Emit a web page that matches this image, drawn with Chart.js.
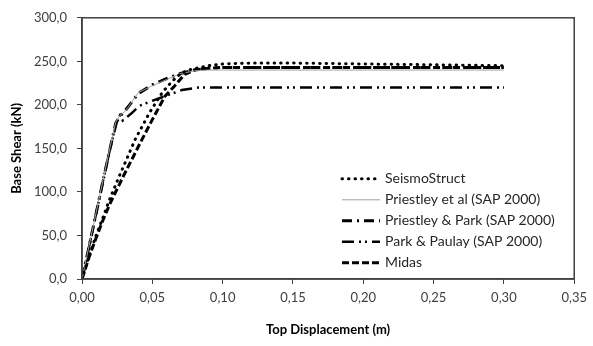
<!DOCTYPE html>
<html>
<head>
<meta charset="utf-8">
<script src="https://cdn.jsdelivr.net/npm/chart.js@4/dist/chart.umd.min.js"></script>
<style>
  html, body { margin: 0; padding: 0; background: #fff; }
  #wrap { width: 593px; height: 346px; }
</style>
</head>
<body>
<div id="wrap"><canvas id="grafico"></canvas></div>
<script>
// series names
const nomes = ['SeismoStruct', 'Priestley et al (SAP 2000)', 'Priestley & Park (SAP 2000)', 'Park & Paulay (SAP 2000)', 'Midas'];

// SeismoStruct
const seismoX = [0, 0.005, 0.010, 0.015, 0.020, 0.027, 0.038, 0.048, 0.057, 0.064, 0.071, 0.078, 0.090, 0.100, 0.120, 0.150, 0.200, 0.250, 0.300];
const seismoY = [0, 26, 50, 71, 93, 120, 161, 191, 214, 227, 237, 241, 245, 247, 248, 248, 247, 246, 245];

// Priestley et al
const priestleyX = [0, 0.005, 0.010, 0.015, 0.020, 0.024, 0.027, 0.031, 0.040, 0.050, 0.060, 0.070, 0.080, 0.090, 0.100, 0.150, 0.200, 0.250, 0.300];
const priestleyY = [0, 38, 76, 114, 152, 180, 188, 193, 214, 222, 229, 236, 239, 240, 240, 240, 240, 240, 240];

// Priestley & Park
const ppX = [0, 0.005, 0.010, 0.015, 0.020, 0.024, 0.027, 0.031, 0.040, 0.050, 0.060, 0.070, 0.080, 0.090, 0.100, 0.150, 0.200, 0.250, 0.300];
const ppY = [0, 37, 75, 113, 150, 179, 187, 194, 213, 223, 230, 236, 240, 242, 243, 243, 243, 243, 243];

// Park & Paulay
const paulayX = [0, 0.005, 0.010, 0.015, 0.020, 0.025, 0.027, 0.029, 0.035, 0.041, 0.049, 0.059, 0.071, 0.083, 0.100, 0.150, 0.200, 0.250, 0.300];
const paulayY = [0, 37, 75, 113, 150, 182, 188, 182, 190, 199, 204, 210, 217, 220, 220, 220, 220, 220, 220];

// Midas
const midasX = [0, 0.005, 0.010, 0.015, 0.020, 0.030, 0.041, 0.050, 0.059, 0.066, 0.073, 0.080, 0.090, 0.100, 0.150, 0.200, 0.250, 0.300];
const midasY = [0, 25, 47, 68, 87, 120, 155, 183, 210, 222, 235, 240, 242, 243, 243, 243, 243, 243];

// ticks
const yTicks = [0, 50, 100, 150, 200, 250, 300];
const xTicks = [0, 0.05, 0.10, 0.15, 0.20, 0.25, 0.30, 0.35];

function pontos(xs, ys) {
  return xs.map((x, i) => ({ x: x, y: ys[i] }));
}

const fonte = 'Lato, "Open Sans", sans-serif';

// legenda dentro da area do grafico
const legendaInterna = {
  id: 'legendaInterna',
  afterDraw(chart) {
    const ctx = chart.ctx;
    const area = chart.chartArea;
    const x0 = area.left + 260;
    const y0 = area.top + 161;
    chart.data.datasets.forEach((ds, i) => {
      const y = y0 + i * 21;
      ctx.save();
      ctx.strokeStyle = ds.borderColor;
      ctx.lineWidth = ds.borderWidth;
      ctx.lineCap = ds.borderCapStyle || 'butt';
      ctx.setLineDash(ds.borderDash || []);
      ctx.beginPath();
      ctx.moveTo(x0, y);
      ctx.lineTo(x0 + 38, y);
      ctx.stroke();
      ctx.restore();
      ctx.save();
      ctx.fillStyle = '#262626';
      ctx.font = '14px ' + fonte;
      ctx.textBaseline = 'middle';
      ctx.fillText(ds.label, x0 + 43, y);
      ctx.restore();
    });
  }
};

// moldura
const moldura = {
  id: 'moldura',
  afterDatasetsDraw(chart) {
    const ctx = chart.ctx;
    const a = chart.chartArea;
    ctx.save();
    ctx.strokeStyle = '#404040';
    ctx.lineWidth = 1.5;
    ctx.strokeRect(a.left, a.top, a.right - a.left, a.bottom - a.top);
    ctx.restore();
  }
};

new Chart(document.getElementById('grafico'), {
  type: 'scatter',
  data: {
    datasets: [
      {
        label: nomes[0],
        data: pontos(seismoX, seismoY),
        borderColor: '#000',
        borderWidth: 3,
        borderDash: [0.5, 6],
        borderCapStyle: 'round'
      },
      {
        label: nomes[1],
        data: pontos(priestleyX, priestleyY),
        borderColor: '#a0a0a0',
        borderWidth: 1
      },
      {
        label: nomes[2],
        data: pontos(ppX, ppY),
        borderColor: '#000',
        borderWidth: 3,
        borderDash: [10, 5, 2, 5]
      },
      {
        label: nomes[3],
        data: pontos(paulayX, paulayY),
        borderColor: '#000',
        borderWidth: 2.5,
        borderDash: [12, 5, 2, 4, 2, 5]
      },
      {
        label: nomes[4],
        data: pontos(midasX, midasY),
        borderColor: '#000',
        borderWidth: 3,
        borderDash: [7, 3]
      }
    ]
  },
  options: {
    responsive: true,
    maintainAspectRatio: false,
    animation: false,
    showLine: true,
    elements: { point: { radius: 0 }, line: { tension: 0 } },
    layout: { padding: { top: 14, right: 11, left: 0, bottom: 0 } },
    plugins: { legend: { display: false }, tooltip: { enabled: false } },
    scales: {
      x: {
        type: 'linear',
        min: 0,
        max: 0.35,
        afterBuildTicks: s => { s.ticks = xTicks.map(v => ({ value: v })); },
        afterFit: s => { s.height = 67; },
        grid: { drawOnChartArea: false, drawTicks: true, tickLength: 5, color: '#404040' },
        border: { color: '#404040', width: 1.5 },
        ticks: {
          color: '#404040',
          font: { family: fonte, size: 13 },
          padding: 6,
          callback: v => v.toFixed(2).replace('.', ',')
        },
        title: {
          display: true,
          text: 'Top Displacement (m)',
          color: '#000',
          font: { family: fonte, size: 13, weight: 'bold' },
          padding: { top: 4, bottom: 8 }
        }
      },
      y: {
        min: 0,
        max: 300,
        afterBuildTicks: s => { s.ticks = yTicks.map(v => ({ value: v })); },
        afterFit: s => { s.width = 82; },
        grid: { drawOnChartArea: false, drawTicks: true, tickLength: 5, color: '#404040' },
        border: { color: '#404040', width: 1.5 },
        ticks: {
          color: '#404040',
          font: { family: fonte, size: 13 },
          padding: 10,
          callback: v => v.toFixed(1).replace('.', ',')
        },
        title: {
          display: true,
          text: 'Base Shear (kN)',
          color: '#000',
          font: { family: fonte, size: 13, weight: 'bold' },
          padding: { top: 9, bottom: 4 }
        }
      }
    }
  },
  plugins: [moldura, legendaInterna]
});
</script>
</body>
</html>
